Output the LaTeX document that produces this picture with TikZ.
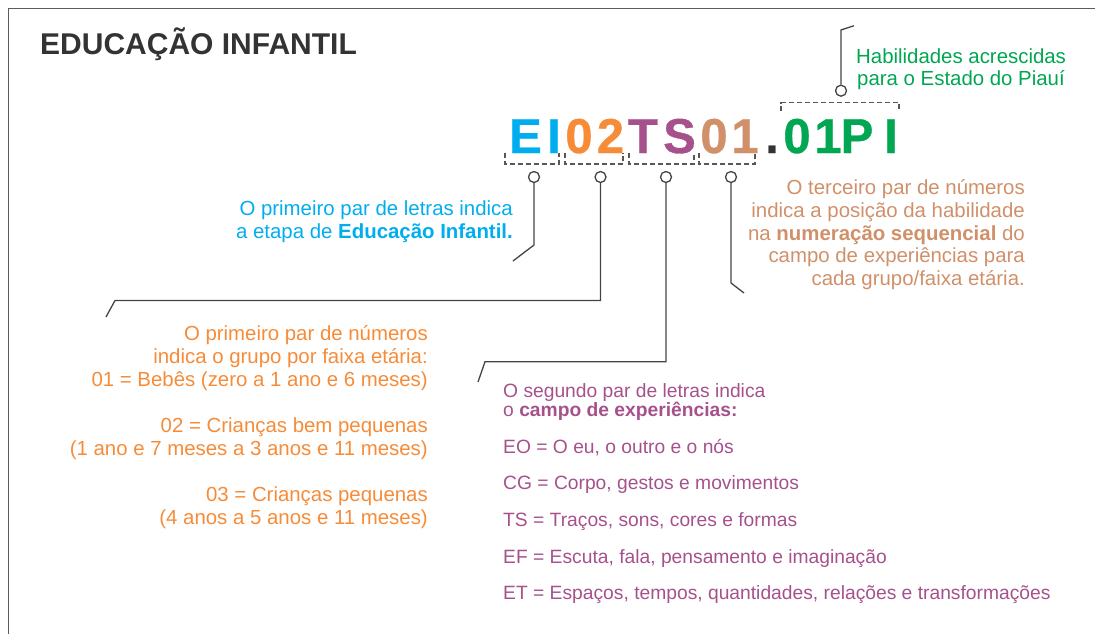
\documentclass[tikz,border=0pt]{standalone}
\usepackage{fontspec}
\setmainfont{Liberation Sans}
\newfontfamily\codefont{Liberation Sans Bold}[FakeBold=0.7]
\definecolor{cblue}{HTML}{00AEEF}
\definecolor{corange}{HTML}{F68B38}
\definecolor{cpurple}{HTML}{A6518C}
\definecolor{ctan}{HTML}{D0906A}
\definecolor{cgreen}{HTML}{00A651}
\definecolor{cdark}{HTML}{333333}
\definecolor{cline}{HTML}{444444}
\begin{document}
\begin{tikzpicture}[x=1pt,y=-1pt,
  txt/.style={inner sep=0pt,font=\fontsize{20.4}{24}\selectfont},
  ptxt/.style={inner sep=0pt,font=\fontsize{19.25}{23}\selectfont,text=cpurple,anchor=base west},
  code/.style={inner sep=0pt,anchor=base,font=\codefont\fontsize{49}{49}\selectfont},
  ring/.style={circle,draw=cline,line width=1.3pt,minimum size=11pt,inner sep=0pt,fill=white},
  conn/.style={draw=cline,line width=1.3pt},
  brk/.style={draw=cline!90,line width=1.3pt,dash pattern=on 5pt off 3pt}]
\useasboundingbox (0,0) rectangle (1095,634);
% frame
\draw[draw=cdark!80,line width=1.5pt] (8.3,634) -- (8.3,8.3) -- (1095,8.3);
% title
\node[inner sep=0pt,anchor=base west,text=cdark,font=\bfseries\fontsize{30}{30}\selectfont] (title) at (40,54.5) {EDUCAÇÃO INFANTIL};
% code letters
\node[code,text=cblue] (c1) at (525.5,153) {E};
\node[code,text=cblue] (c2) at (554,153) {I};
\node[code,text=corange] (c3) at (579,153) {0};
\node[code,text=corange] (c4) at (610.5,153) {2};
\node[code,text=cpurple] (c5) at (643,153) {T};
\node[code,text=cpurple] (c6) at (679.5,153) {S};
\node[code,text=ctan] (c7) at (714,153) {0};
\node[code,text=ctan] (c8) at (745,153) {1};
\node[code,text=cdark] (c9) at (772,153) {.};
\node[code,text=cgreen] (c10) at (797,153) {0};
\node[code,text=cgreen] (c11) at (828,153) {1};
\node[code,text=cgreen] (c12) at (857,153) {P};
\node[code,text=cgreen] (c13) at (891,153) {I};
% brackets
\draw[brk] (505,152.7) -- (505,164) -- (559,164) -- (559,152.7);
\draw[brk] (565,152.7) -- (565,164) -- (623,164) -- (623,152.7);
\draw[brk] (629,152.7) -- (629,164) -- (694,164) -- (694,152.7);
\draw[brk] (699,152.7) -- (699,164) -- (755,164) -- (755,152.7);
\draw[brk] (781,111) -- (781,102.7) -- (899,102.7) -- (899,111);
% rings
\node[ring] (k1) at (534,177) {};
\node[ring] (k2) at (600.5,177) {};
\node[ring] (k3) at (666,177) {};
\node[ring] (k4) at (731,177) {};
\node[ring] (k5) at (841,90.7) {};
% free ends
\coordinate (e1a) at (534,245);   \coordinate (e1b) at (513,261);
\coordinate (e2a) at (600.5,300.5); \coordinate (e2b) at (115,300.5); \coordinate (e2c) at (106,317);
\coordinate (e3a) at (666,361.7); \coordinate (e3b) at (485,361.7); \coordinate (e3c) at (478,382);
\coordinate (e4a) at (731,283);   \coordinate (e4b) at (744,293);
\coordinate (e5a) at (841,30);    \coordinate (e5b) at (854,25.7);
\draw[conn] (k1.south) -- (e1a) -- (e1b);
\draw[conn] (k2.south) -- (e2a) -- (e2b) -- (e2c);
\draw[conn] (k3.south) -- (e3a) -- (e3b) -- (e3c);
\draw[conn] (k4.south) -- (e4a) -- (e4b);
\draw[conn] (k5.north) -- (e5a) -- (e5b);
% green text
\node[txt,text=cgreen,anchor=base west] (g1) at (856,63.5) {Habilidades acrescidas};
\node[txt,text=cgreen,anchor=base west] (g2) at (857,85.5) {para o Estado do Piauí};
% blue text
\node[txt,text=cblue,anchor=base east] (b1) at (513,215) {O primeiro par de letras indica};
\node[txt,text=cblue,anchor=base east] (b2) at (513,238) {a etapa de \textbf{Educação Infantil.}};
% tan text
\node[txt,text=ctan,anchor=base east] (t1) at (1025,194) {O terceiro par de números};
\node[txt,text=ctan,anchor=base east] (t2) at (1025,217) {indica a posição da habilidade};
\node[txt,text=ctan,anchor=base east] (t3) at (1025,240) {na \textbf{numeração sequencial} do};
\node[txt,text=ctan,anchor=base east] (t4) at (1025,262.5) {campo de experiências para};
\node[txt,text=ctan,anchor=base east] (t5) at (1025,285) {cada grupo/faixa etária.};
% orange text
\node[txt,text=corange,anchor=base east] (o1) at (428,340) {O primeiro par de números};
\node[txt,text=corange,anchor=base east] (o2) at (428,363) {indica o grupo por faixa etária:};
\node[txt,text=corange,anchor=base east] (o3) at (428,386) {01 = Bebês (zero a 1 ano e 6 meses)};
\node[txt,text=corange,anchor=base east] (o4) at (428,432) {02 = Crianças bem pequenas};
\node[txt,text=corange,anchor=base east] (o5) at (428,455) {(1 ano e 7 meses a 3 anos e 11 meses)};
\node[txt,text=corange,anchor=base east] (o6) at (428,501) {03 = Crianças pequenas};
\node[txt,text=corange,anchor=base east] (o7) at (428,524) {(4 anos a 5 anos e 11 meses)};
% purple text
\node[ptxt] (p1) at (503,397) {O segundo par de letras indica};
\node[ptxt] (p2) at (503,416) {o \textbf{campo de experiências:}};
\node[ptxt] (p3) at (503,453) {EO = O eu, o outro e o nós};
\node[ptxt] (p4) at (503,489) {CG = Corpo, gestos e movimentos};
\node[ptxt] (p5) at (503,526) {TS = Traços, sons, cores e formas};
\node[ptxt] (p6) at (503,563) {EF = Escuta, fala, pensamento e imaginação};
\node[ptxt] (p7) at (503,599) {ET = Espaços, tempos, quantidades, relações e transformações};
\end{tikzpicture}
\end{document}
